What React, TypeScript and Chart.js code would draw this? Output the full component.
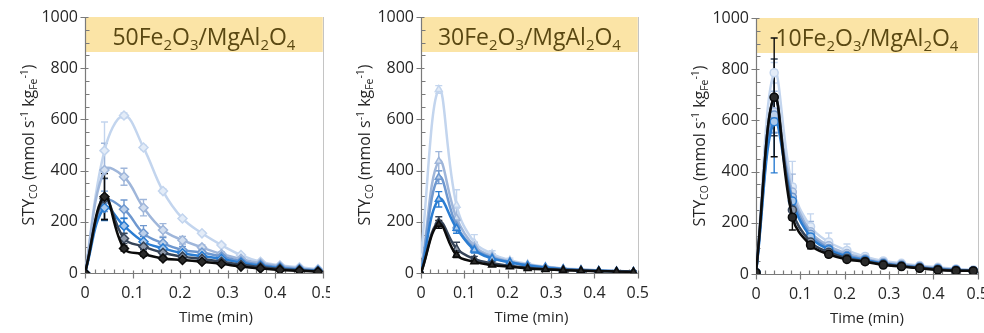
import React, { useEffect, useRef } from "react";
import { Chart, registerables } from "chart.js";
Chart.register(...registerables);

// ---------- data ----------
const TIME_MIN = [0, 0.041, 0.082, 0.123, 0.164, 0.205, 0.246, 0.287, 0.328, 0.369, 0.41, 0.451, 0.49];
const Y_TICK_VALUES = [0, 200, 400, 600, 800, 1000];
const X_TICK_VALUES = [0, 0.1, 0.2, 0.3, 0.4, 0.5];

const SERIES_COLORS = ["#c3d5ee", "#9fb6da", "#6f98cf", "#2b7dd2", "#364458", "#0b0b0b"];
const SERIES_FILLS = ["#e3ecf8", "#d2deef", "#bcd0ea", "#a8c8ec", "#8e98a8", "#2a2a2a"];

// 50Fe2O3/MgAl2O4
const FE50_S1 = [0, 478, 615, 490, 320, 213, 155, 109, 70, 44, 30, 22, 15];
const FE50_S2 = [0, 402, 376, 255, 168, 128, 100, 74, 55, 38, 26, 18, 12];
const FE50_S3 = [0, 280, 249, 155, 116, 90, 80, 64, 46, 32, 22, 15, 10];
const FE50_S4 = [0, 255, 184, 122, 96, 77, 66, 55, 40, 28, 19, 13, 9];
const FE50_S5 = [0, 290, 135, 103, 79, 64, 55, 44, 32, 23, 16, 11, 7];
const FE50_S6 = [0, 298, 96, 74, 57, 51, 44, 36, 25, 18, 12, 9, 5];
const FE50_E1 = [0, 112, 10, 8, 8, 6, 5, 4, 4, 3, 3, 2, 2];
const FE50_E2 = [0, 105, 33, 32, 25, 15, 10, 8, 6, 4, 3, 2, 2];
const FE50_E3 = [0, 40, 36, 30, 22, 14, 10, 8, 6, 4, 3, 2, 2];
const FE50_E4 = [0, 50, 30, 20, 14, 10, 8, 6, 5, 4, 3, 2, 2];
const FE50_E5 = [0, 80, 20, 12, 10, 8, 6, 5, 4, 3, 3, 2, 2];
const FE50_E6 = [0, 90, 10, 8, 6, 5, 4, 4, 3, 3, 2, 2, 2];

// 30Fe2O3/MgAl2O4
const FE30_S1 = [70, 717, 265, 120, 75, 50, 35, 25, 18, 14, 10, 8, 6];
const FE30_S2 = [0, 437, 215, 105, 65, 45, 32, 23, 17, 13, 10, 8, 6];
const FE30_S3 = [0, 374, 185, 95, 60, 43, 30, 22, 16, 12, 9, 7, 5];
const FE30_S4 = [0, 288, 175, 90, 57, 42, 29, 21, 15, 11, 9, 7, 5];
const FE30_S5 = [0, 200, 95, 55, 38, 28, 21, 16, 13, 10, 8, 6, 5];
const FE30_S6 = [0, 190, 70, 44, 31, 24, 18, 14, 11, 9, 7, 6, 4];
const FE30_E1 = [0, 15, 60, 30, 12, 8, 5, 4, 3, 3, 2, 2, 2];
const FE30_E2 = [0, 37, 40, 15, 10, 6, 4, 3, 3, 2, 2, 2, 2];
const FE30_E3 = [0, 25, 20, 12, 8, 5, 4, 3, 3, 2, 2, 2, 2];
const FE30_E4 = [0, 30, 20, 12, 8, 5, 4, 3, 3, 2, 2, 2, 2];
const FE30_E5 = [0, 20, 25, 10, 6, 4, 3, 3, 2, 2, 2, 2, 2];
const FE30_E6 = [0, 15, 10, 6, 4, 3, 3, 2, 2, 2, 2, 2, 2];

// 10Fe2O3/MgAl2O4
const FE10_S1 = [5, 786, 340, 185, 125, 92, 68, 51, 42, 33, 26, 20, 16];
const FE10_S2 = [5, 634, 320, 165, 110, 80, 60, 45, 37, 29, 22, 18, 14];
const FE10_S3 = [5, 621, 300, 155, 100, 72, 56, 42, 34, 27, 21, 16, 13];
const FE10_S4 = [5, 595, 285, 145, 95, 68, 54, 40, 32, 25, 19, 15, 12];
const FE10_S5 = [5, 690, 250, 125, 85, 62, 50, 38, 31, 24, 18, 14, 12];
const FE10_S6 = [5, 690, 222, 113, 77, 57, 48, 35, 29, 22, 16, 13, 12];
const FE10_E1 = [0, 40, 100, 50, 35, 25, 12, 8, 6, 5, 4, 3, 3];
const FE10_E2 = [0, 80, 70, 40, 25, 15, 10, 7, 5, 4, 3, 3, 3];
const FE10_E3 = [0, 70, 50, 30, 20, 12, 8, 6, 5, 4, 3, 3, 3];
const FE10_E4 = [0, 200, 40, 25, 15, 10, 7, 5, 4, 4, 3, 3, 3];
const FE10_E5 = [0, 150, 40, 20, 12, 8, 6, 5, 4, 3, 3, 3, 3];
const FE10_E6 = [0, 232, 50, 15, 10, 7, 5, 4, 4, 3, 3, 3, 3];

type Seg = [string, "n" | "sub" | "sup"];
const TITLE_50: Seg[] = [["50Fe", "n"], ["2", "sub"], ["O", "n"], ["3", "sub"], ["/MgAl", "n"], ["2", "sub"], ["O", "n"], ["4", "sub"]];
const TITLE_30: Seg[] = [["30Fe", "n"], ["2", "sub"], ["O", "n"], ["3", "sub"], ["/MgAl", "n"], ["2", "sub"], ["O", "n"], ["4", "sub"]];
const TITLE_10: Seg[] = [["10Fe", "n"], ["2", "sub"], ["O", "n"], ["3", "sub"], ["/MgAl", "n"], ["2", "sub"], ["O", "n"], ["4", "sub"]];
const Y_TITLE: Seg[] = [["STY", "n"], ["CO", "sub"], [" (mmol s", "n"], ["-1", "sup"], [" kg", "n"], ["Fe", "sub"], ["-1", "sup"], [")", "n"]];
const X_TITLE = "Time (min)";

// ---------- layout ----------
const FONT = "'Open Sans', 'DejaVu Sans', sans-serif";
const H = 333;

const PANELS = [
  {
    title: TITLE_50, series: [FE50_S1, FE50_S2, FE50_S3, FE50_S4, FE50_S5, FE50_S6],
    errors: [FE50_E1, FE50_E2, FE50_E3, FE50_E4, FE50_E5, FE50_E6],
    marker: "rectRot", radius: 4.5, left: 0, width: 345,
    area: { left: 85, right: 323, top: 17, bottom: 273 }, xTitleShift: 12,
  },
  {
    title: TITLE_30, series: [FE30_S1, FE30_S2, FE30_S3, FE30_S4, FE30_S5, FE30_S6],
    errors: [FE30_E1, FE30_E2, FE30_E3, FE30_E4, FE30_E5, FE30_E6],
    marker: "triangle", radius: 4, left: 330, width: 330,
    area: { left: 91, right: 318, top: 17, bottom: 273 }, xTitleShift: 2,
  },
  {
    title: TITLE_10, series: [FE10_S1, FE10_S2, FE10_S3, FE10_S4, FE10_S5, FE10_S6],
    errors: [FE10_E1, FE10_E2, FE10_E3, FE10_E4, FE10_E5, FE10_E6],
    marker: "circle", radius: 4, left: 660, width: 340,
    area: { left: 96, right: 318, top: 18, bottom: 274 }, xTitleShift: 0,
  },
];

function richWidth(ctx: CanvasRenderingContext2D, segs: Seg[], size: number) {
  let w = 0;
  for (const [t, k] of segs) {
    ctx.font = `${k === "n" ? size : size * 0.65}px ${FONT}`;
    w += ctx.measureText(t).width;
  }
  return w;
}
function drawRich(ctx: CanvasRenderingContext2D, segs: Seg[], cx: number, baseY: number, size: number, color: string) {
  const w = richWidth(ctx, segs, size);
  let x = cx - w / 2;
  ctx.fillStyle = color;
  ctx.textAlign = "left";
  ctx.textBaseline = "alphabetic";
  for (const [t, k] of segs) {
    const s = k === "n" ? size : size * 0.65;
    ctx.font = `${s}px ${FONT}`;
    const dy = k === "sub" ? size * 0.2 : k === "sup" ? -size * 0.38 : 0;
    ctx.fillText(t, x, baseY + dy);
    x += ctx.measureText(t).width;
  }
}

function makePlugin(panel: any) {
  return {
    id: "decor",
    beforeDatasetsDraw(chart: any) {
      const { ctx, chartArea: a, scales } = chart;
      const xs = scales.x, ys = scales.y;
      ctx.save();
      // title band
      const bandBottom = a.top + 35;
      ctx.fillStyle = "#fbe4a6";
      ctx.fillRect(a.left, a.top, a.right - a.left, bandBottom - a.top);
      drawRich(ctx, panel.title, (a.left + a.right) / 2, a.top + 28, 23, "#5a4812");
      // right border
      ctx.strokeStyle = "#c4c4c4";
      ctx.lineWidth = 1;
      ctx.beginPath();
      ctx.moveTo(Math.round(a.right) + 0.5, a.top);
      ctx.lineTo(Math.round(a.right) + 0.5, a.bottom);
      ctx.stroke();
      // axes
      ctx.strokeStyle = "#7a7a7a";
      ctx.lineWidth = 1.2;
      const ax = Math.round(a.left) + 0.5, ay = Math.round(a.bottom) + 0.5;
      ctx.beginPath();
      ctx.moveTo(ax, a.top); ctx.lineTo(ax, a.bottom);
      ctx.moveTo(a.left, ay); ctx.lineTo(a.right, ay);
      for (let v = 0; v <= 1000; v += 50) {
        const y = Math.round(ys.getPixelForValue(v)) + 0.5;
        if (v % 200 === 0) { ctx.moveTo(ax - 5, y); ctx.lineTo(ax + 3, y); }
        else { ctx.moveTo(ax, y); ctx.lineTo(ax + 4, y); }
      }
      for (let k = 0; k <= 25; k++) {
        const x = Math.round(xs.getPixelForValue(k * 0.02)) + 0.5;
        if (k % 5 === 0) { ctx.moveTo(x, ay - 3); ctx.lineTo(x, ay + 5); }
        else { ctx.moveTo(x, ay - 4); ctx.lineTo(x, ay); }
      }
      ctx.stroke();
      // error bars
      ctx.lineWidth = 1.4;
      panel.series.forEach((s: number[], i: number) => {
        ctx.strokeStyle = SERIES_COLORS[i];
        ctx.beginPath();
        s.forEach((v, j) => {
          const e = panel.errors[i][j];
          if (!e) return;
          const x = xs.getPixelForValue(TIME_MIN[j]);
          const y1 = ys.getPixelForValue(Math.max(0, v - e));
          const y2 = ys.getPixelForValue(v + e);
          ctx.moveTo(x, y1); ctx.lineTo(x, y2);
          ctx.moveTo(x - 3.5, y1); ctx.lineTo(x + 3.5, y1);
          ctx.moveTo(x - 3.5, y2); ctx.lineTo(x + 3.5, y2);
        });
        ctx.stroke();
      });
      ctx.restore();
    },
    afterDraw(chart: any) {
      const { ctx, chartArea: a } = chart;
      ctx.save();
      // x title
      ctx.fillStyle = "#262626";
      ctx.font = `15px ${FONT}`;
      ctx.textAlign = "center";
      ctx.textBaseline = "alphabetic";
      ctx.fillText(X_TITLE, (a.left + a.right) / 2 + panel.xTitleShift, a.bottom + 49);
      // y title
      ctx.translate(a.left - 57, (a.top + a.bottom) / 2);
      ctx.rotate(-Math.PI / 2);
      drawRich(ctx, Y_TITLE, 0, 6, 16, "#262626");
      ctx.restore();
    },
  };
}

function Panel({ panel, z }: { panel: any; z: number }) {
  const ref = useRef<HTMLCanvasElement>(null);
  useEffect(() => {
    const a = panel.area;
    const chart = new Chart(ref.current!, {
      type: "line",
      data: {
        datasets: panel.series.map((s: number[], i: number) => ({
          data: s.map((v, j) => ({ x: TIME_MIN[j], y: v })),
          borderColor: SERIES_COLORS[i],
          backgroundColor: SERIES_FILLS[i],
          pointBackgroundColor: SERIES_FILLS[i],
          pointBorderColor: SERIES_COLORS[i],
          pointStyle: panel.marker,
          pointRadius: panel.radius,
          pointBorderWidth: 1.5,
          borderWidth: 2.5,
          tension: 0.4,
          fill: false,
          order: 5 - i,
        })),
      },
      options: {
        animation: false,
        responsive: false,
        maintainAspectRatio: false,
        devicePixelRatio: 1,
        layout: { padding: { left: 0, right: panel.width - a.right, top: a.top, bottom: 0 } },
        plugins: { legend: { display: false }, tooltip: { enabled: false } },
        scales: {
          x: {
            type: "linear", min: 0, max: 0.5,
            grid: { display: false, drawTicks: false },
            border: { display: false },
            afterBuildTicks: (s: any) => { s.ticks = X_TICK_VALUES.map((v) => ({ value: v })); },
            ticks: {
              padding: 11, color: "#262626", font: { family: FONT, size: 16 },
              autoSkip: false, maxRotation: 0,
              callback: (v: any) => String(Number(Number(v).toFixed(1))),
            },
            afterFit: (s: any) => { s.height = H - a.bottom; },
          },
          y: {
            type: "linear", min: 0, max: 1000,
            grid: { display: false, drawTicks: false },
            border: { display: false },
            afterBuildTicks: (s: any) => { s.ticks = Y_TICK_VALUES.map((v) => ({ value: v })); },
            ticks: {
              padding: 7, color: "#262626", font: { family: FONT, size: 16 }, autoSkip: false,
              callback: (v: any) => String(v),
            },
            afterFit: (s: any) => { s.width = a.left; },
          },
        },
      },
      plugins: [makePlugin(panel)],
    } as any);
    return () => chart.destroy();
  }, [panel]);
  return (
    <canvas
      ref={ref}
      width={panel.width}
      height={H}
      style={{ position: "absolute", left: panel.left, top: 0, width: panel.width, height: H, background: "#fff", zIndex: z }}
    />
  );
}

export default function App() {
  return (
    <div style={{ position: "fixed", left: 0, top: 0, width: 984, height: H, overflow: "hidden", background: "#fff" }}>
      {PANELS.map((p, i) => (
        <Panel key={i} panel={p} z={i + 1} />
      ))}
    </div>
  );
}
